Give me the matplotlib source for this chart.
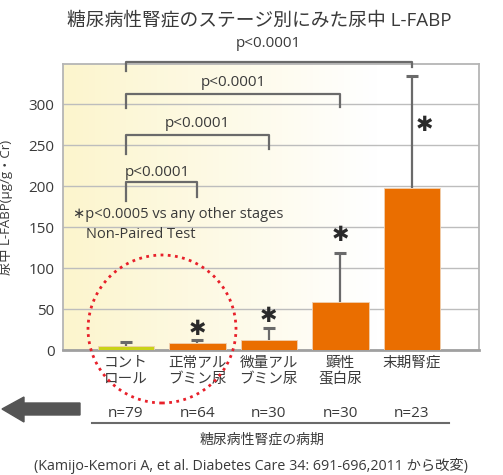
"""
Urinary L-FABP by stage of diabetic nephropathy (bar chart with brackets).
"""

import numpy as np
import matplotlib.pyplot as plt
from matplotlib.patches import Ellipse, Polygon

plt.rcParams["font.family"] = ["Open Sans", "Noto Sans CJK JP", "DejaVu Sans"]

# data
stages = ["コント\nロール", "正常アル\nブミン尿", "微量アル\nブミン尿", "顕性\n蛋白尿", "末期腎症"]
n_labels = ["n=79", "n=64", "n=30", "n=30", "n=23"]
means = [5.3, 8, 12, 58, 198]
err_tops = [9.5, 12.5, 27, 118, 334]
bar_colors = ["#c9d318", "#ea6e00", "#ea6e00", "#ea6e00", "#ea6e00"]
yticks = [0, 50, 100, 150, 200, 250, 300]

# comparison brackets: (left, right, height, left leg end, right leg end, label x, label y, ha)
brackets = [
    (0, 4, 352, 340, 345, 2.0, 374, "center"),
    (0, 3, 313, 295, 297, 1.5, 326, "center"),
    (0, 2, 262, 239, 245, 1.0, 277, "center"),
    (0, 1, 205, 182, 187, -0.02, 217, "left"),
]
# asterisk marks (x, y)
star_x = [1, 2, 3, 4.18]
star_y = [26, 42, 140, 275]

W, H = 503, 475
fig = plt.figure(figsize=(W / 100, H / 100), dpi=100)
ax = fig.add_axes([63 / W, 1 - 350 / H, (479 - 63) / W, (350 - 64) / H])

text_col = "#3a3a3a"
line_col = "#6a6a6a"

# yellow-to-white background gradient
grad = np.linspace(0, 1, 256)
c0 = np.array([252, 245, 205]) / 255
c1 = np.array([255, 255, 255]) / 255
t = np.clip(grad / 0.75, 0, 1)[:, None]
img = (c0 * (1 - t) + c1 * t)[None, :, :]
ax.imshow(img, extent=[-0.88, 4.94, 0, 349], aspect="auto", zorder=0)

x = np.arange(len(stages))
ax.bar(x, means, width=0.79, color=bar_colors, edgecolor="#f0d0b0", linewidth=0.6, zorder=3)
# upper-only error bars
ax.vlines(x, means, err_tops, color=line_col, linewidth=1.6, zorder=2)
ax.plot(x, err_tops, linestyle="none", marker="_", markersize=8,
        markeredgewidth=2.2, color=line_col, zorder=2)

ax.set_xlim(-0.88, 4.94)
ax.set_ylim(0, 349)
ax.set_yticks(yticks)
ax.set_yticklabels([str(v) for v in yticks], fontsize=11, color=text_col)
ax.set_xticks([])
ax.tick_params(axis="y", length=0, pad=6)
ax.grid(axis="y", color="#bdbdbd", linewidth=1.0, zorder=1)
ax.set_axisbelow(True)
for side in ["top", "right", "left"]:
    ax.spines[side].set_color("#b5b5b5")
    ax.spines[side].set_linewidth(1.3)
ax.spines["bottom"].set_color("#a0a0a0")
ax.spines["bottom"].set_linewidth(2.0)

ax.set_ylabel("尿中 L-FABP(μg/g・Cr)", fontsize=9.5, color=text_col, labelpad=0)
ax.yaxis.set_label_coords(-0.12, 0.5)

for left, right, h, ly, ry, tx, ty, ha in brackets:
    ax.plot([left, left, right, right], [ly, h, h, ry], color=line_col,
            linewidth=1.6, clip_on=False, zorder=4)
    ax.text(tx, ty, "p<0.0001", ha=ha, va="center", fontsize=11,
            color=text_col, clip_on=False)

for sx, sy in zip(star_x, star_y):
    ax.text(sx, sy, "✱", ha="center", va="center", fontsize=15,
            family="DejaVu Sans", color="#2a2a2a")

ax.text(-0.74, 165, "∗p<0.0005 vs any other stages", ha="left", va="center",
        fontsize=10.5, color=text_col)
ax.text(-0.56, 141, "Non-Paired Test", ha="left", va="center",
        fontsize=10.5, color=text_col)

# category and n labels below the axis
for xi, (lab, n) in enumerate(zip(stages, n_labels)):
    ax.text(xi, -7, lab, ha="center", va="top", fontsize=10.5, color=text_col,
            linespacing=1.15, clip_on=False)
    ax.text(xi, -78, n, ha="center", va="center", fontsize=11,
            color=text_col, clip_on=False)

fig.text(259 / W, 1 - 20 / H, "糖尿病性腎症のステージ別にみた尿中 L-FABP",
         ha="center", va="center", fontsize=13.5, color=text_col)

fig.add_artist(plt.Line2D([92 / W, 449 / W], [1 - 423 / H, 1 - 423 / H],
                          color=line_col, linewidth=1.5))
fig.text(262 / W, 1 - 440 / H, "糖尿病性腎症の病期", ha="center", va="center",
         fontsize=10, color=text_col)
fig.text(251 / W, 1 - 466 / H, "(Kamijo-Kemori A, et al. Diabetes Care 34: 691-696,2011 から改変)",
         ha="center", va="center", fontsize=10.3, color=text_col)

# big grey arrow on the left
arrow_px = [(2, 409), (24, 397), (24, 403), (80, 403), (80, 415), (24, 415), (24, 422)]
fig.add_artist(Polygon([(px / W, 1 - py / H) for px, py in arrow_px], closed=True,
                       transform=fig.transFigure, color="#555555"))

# red dotted circle around the first two stages
fig.add_artist(Ellipse((162 / W, 1 - 329 / H), 148 / W, 148 / H, transform=fig.transFigure,
                       fill=False, edgecolor="#e8202a", linestyle=(0, (1, 1.6)),
                       linewidth=2.0, zorder=10))

fig.savefig("out.png", dpi=100)
